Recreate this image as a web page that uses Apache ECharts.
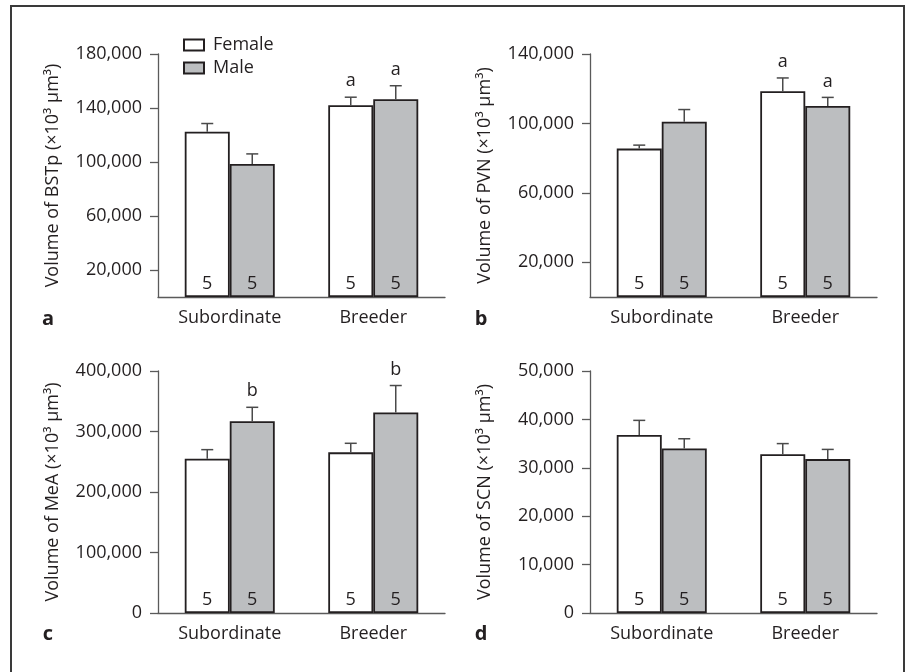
<!DOCTYPE html>
<html>
<head>
<meta charset="utf-8">
<script src="https://cdn.jsdelivr.net/npm/echarts@6/dist/echarts.min.js"></script>
<style>
html,body{margin:0;padding:0;background:#fff;}
#chart{width:912px;height:672px;}
</style>
</head>
<body>
<div id="chart"></div>
<script>
// ---- data ----
const categories = ['Subordinate', 'Breeder'];
const sampleSizes = [5, 5];

const bstpFemale = [122500, 142000];
const bstpFemaleErr = [6000, 6000];
const bstpMale = [98500, 146500];
const bstpMaleErr = [7500, 10000];
const bstpFemaleSig = ['', 'a'];
const bstpMaleSig = ['', 'a'];
const bstpTicks = [20000, 60000, 100000, 140000, 180000];

const pvnFemale = [85500, 118500];
const pvnFemaleErr = [2000, 7700];
const pvnMale = [101000, 110000];
const pvnMaleErr = [7000, 5000];
const pvnFemaleSig = ['', 'a'];
const pvnMaleSig = ['', 'a'];
const pvnTicks = [20000, 60000, 100000, 140000];

const meaFemale = [255000, 265500];
const meaFemaleErr = [15000, 15000];
const meaMale = [317000, 331500];
const meaMaleErr = [23000, 44500];
const meaFemaleSig = ['', ''];
const meaMaleSig = ['b', 'b'];
const meaTicks = [0, 100000, 200000, 300000, 400000];

const scnFemale = [36800, 32800];
const scnFemaleErr = [3000, 2200];
const scnMale = [34000, 31800];
const scnMaleErr = [2000, 2000];
const scnFemaleSig = ['', ''];
const scnMaleSig = ['', ''];
const scnTicks = [0, 10000, 20000, 30000, 40000, 50000];

const panelNames = ['Volume of BSTp (×10³ µm³)', 'Volume of PVN (×10³ µm³)', 'Volume of MeA (×10³ µm³)', 'Volume of SCN (×10³ µm³)'];
const panelLetters = ['a', 'b', 'c', 'd'];

// ---- styles ----
const FONT = 'Open Sans';
const TXT = '#231f20';
const AX = '#5a5a5a';
const BAR_W = 45;
const grids = [
  {left: 158, top: 54, width: 287, height: 243},
  {left: 590, top: 54, width: 287, height: 243},
  {left: 158, top: 371, width: 287, height: 242},
  {left: 590, top: 371, width: 287, height: 242}
];

const panels = [
  {f: bstpFemale, fe: bstpFemaleErr, m: bstpMale, me: bstpMaleErr, fs: bstpFemaleSig, ms: bstpMaleSig, ticks: bstpTicks},
  {f: pvnFemale, fe: pvnFemaleErr, m: pvnMale, me: pvnMaleErr, fs: pvnFemaleSig, ms: pvnMaleSig, ticks: pvnTicks},
  {f: meaFemale, fe: meaFemaleErr, m: meaMale, me: meaMaleErr, fs: meaFemaleSig, ms: meaMaleSig, ticks: meaTicks},
  {f: scnFemale, fe: scnFemaleErr, m: scnMale, me: scnMaleErr, fs: scnFemaleSig, ms: scnMaleSig, ticks: scnTicks}
];

const fmt = v => Number(v).toLocaleString('en-US');

const xAxes = [], yAxes = [], series = [];
panels.forEach((p, i) => {
  xAxes.push({
    type: 'category', gridIndex: i, data: categories,
    axisLine: {lineStyle: {color: AX, width: 1.3}},
    axisTick: {length: 8, lineStyle: {color: AX, width: 1.3}},
    axisLabel: {color: TXT, fontFamily: FONT, fontSize: 18, margin: 12}
  });
  yAxes.push({
    type: 'value', gridIndex: i, min: 0, max: p.ticks[p.ticks.length - 1],
    name: panelNames[i], nameLocation: 'middle', nameGap: 96,
    nameTextStyle: {color: TXT, fontFamily: FONT, fontSize: 18},
    splitLine: {show: false},
    axisLine: {show: true, lineStyle: {color: AX, width: 1.3}},
    axisTick: {show: true, length: 8, customValues: p.ticks, lineStyle: {color: AX, width: 1.3}},
    axisLabel: {customValues: p.ticks, color: TXT, fontFamily: FONT, fontSize: 18, margin: 16, formatter: fmt}
  });
  const lbl = {
    show: true, position: 'insideBottom', distance: 4, color: TXT, fontFamily: FONT, fontSize: 18,
    formatter: prm => String(sampleSizes[prm.dataIndex])
  };
  series.push({
    type: 'bar', name: 'Female', xAxisIndex: i, yAxisIndex: i, data: p.f,
    barWidth: BAR_W, barGap: '0%',
    itemStyle: {color: '#ffffff', borderColor: TXT, borderWidth: 1.8},
    label: lbl, z: 2
  });
  series.push({
    type: 'bar', name: 'Male', xAxisIndex: i, yAxisIndex: i, data: p.m,
    barWidth: BAR_W, barGap: '0%',
    itemStyle: {color: '#bcbec0', borderColor: TXT, borderWidth: 1.8},
    label: lbl, z: 2
  });
  const errData = [], sigs = [];
  categories.forEach((c, ci) => {
    errData.push([ci, p.f[ci], p.fe[ci], -1]); sigs.push(p.fs[ci]);
    errData.push([ci, p.m[ci], p.me[ci], 1]); sigs.push(p.ms[ci]);
  });
  series.push({
    type: 'custom', xAxisIndex: i, yAxisIndex: i, data: errData, z: 3, silent: true,
    renderItem: (params, api) => {
      const ci = api.value(0), mean = api.value(1), err = api.value(2), side = api.value(3);
      const base = api.coord([ci, mean]);
      const top = api.coord([ci, mean + err]);
      const x = base[0] + side * BAR_W / 2;
      const st = {stroke: '#4a4a4a', lineWidth: 1.5};
      const children = [
        {type: 'line', shape: {x1: x, y1: base[1], x2: x, y2: top[1]}, style: st},
        {type: 'line', shape: {x1: x - 6, y1: top[1], x2: x + 6, y2: top[1]}, style: st}
      ];
      const s = sigs[params.dataIndex];
      if (s) {
        children.push({type: 'text', x: x, y: top[1] - 16,
          style: {text: s, fill: TXT, font: '18px "' + FONT + '"', align: 'center', verticalAlign: 'middle'}});
      }
      return {type: 'group', children: children};
    }
  });
});

const letterPos = [[48, 319], [481, 319], [48, 634], [481, 634]];
const graphics = [
  {type: 'rect', shape: {x: 11, y: 6, width: 893, height: 700}, style: {fill: 'none', stroke: '#3a3a3a', lineWidth: 2}, z: 10}
];
panelLetters.forEach((l, i) => {
  graphics.push({type: 'text', x: letterPos[i][0], y: letterPos[i][1],
    style: {text: l, fill: TXT, font: 'bold 20px "' + FONT + '"', align: 'center', verticalAlign: 'middle'}});
});

const chart = echarts.init(document.getElementById('chart'), null, {renderer: 'canvas'});
chart.setOption({
  animation: false,
  backgroundColor: '#ffffff',
  textStyle: {fontFamily: FONT},
  grid: grids,
  xAxis: xAxes,
  yAxis: yAxes,
  legend: {
    data: ['Female', 'Male'], orient: 'vertical', left: 183, top: 36,
    itemWidth: 20, itemHeight: 11, itemGap: 5, padding: 0,
    icon: 'rect',
    textStyle: {color: TXT, fontFamily: FONT, fontSize: 18, padding: [0, 0, 0, 4]}
  },
  graphic: graphics,
  series: series
});
</script>
</body>
</html>
